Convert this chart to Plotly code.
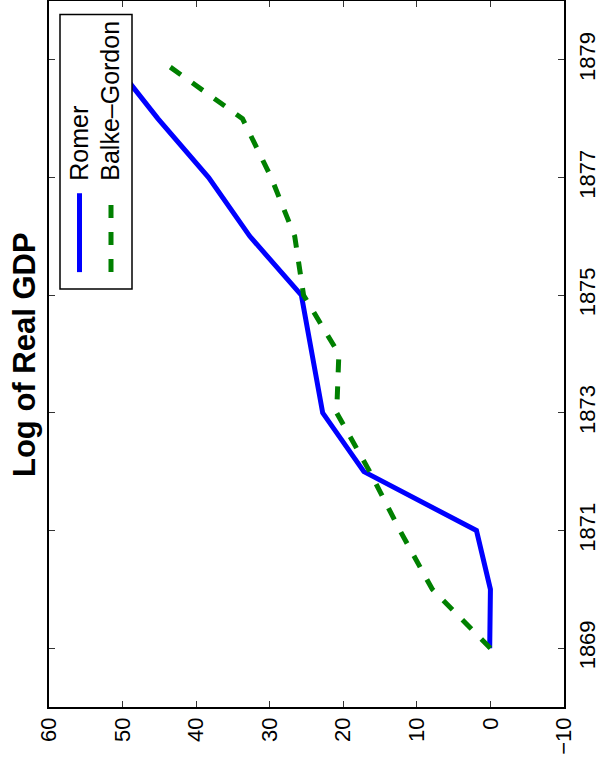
import plotly.graph_objects as go

years = [1869, 1870, 1871, 1872, 1873, 1874, 1875, 1876, 1877, 1878, 1879]
romer = [0.1, 0.0, 1.9, 17.2, 22.8, 24.2, 25.7, 32.7, 38.3, 45.2, 51.5]
balke_gordon = [0.0, 7.9, 12.3, 16.4, 20.9, 20.6, 25.4, 26.6, 29.8, 33.7, 44.9]
year_ticks = [1869, 1871, 1873, 1875, 1877, 1879]
value_ticks = [60, 50, 40, 30, 20, 10, 0, -10]

W, H = 601, 769
L, R, T, B = 49, 564, 0.5, 707.5  # plot area in pixels


def px(xp):
    return (xp - L) / (R - L)


def py(yp):
    return (B - yp) / (B - T)


FONT = "Liberation Sans, Arial, Helvetica, sans-serif"

fig = go.Figure()
fig.add_trace(go.Scatter(x=romer, y=years, mode="lines", name="Romer",
                         line=dict(color="#0000FF", width=5)))
fig.add_trace(go.Scatter(x=balke_gordon, y=years, mode="lines", name="Balke\u2013Gordon",
                         line=dict(color="#008000", width=5, dash="13px,14px")))

axis_common = dict(showgrid=False, zeroline=False, showline=True, linecolor="black",
                   linewidth=1.5, ticks="inside", ticklen=6, tickwidth=1,
                   tickcolor="#333", mirror="ticks",
                   tickfont=dict(family=FONT, size=22, color="black"))

fig.update_layout(
    width=W, height=H,
    margin=dict(l=L, r=W - R, t=T, b=H - B, autoexpand=False),
    paper_bgcolor="white", plot_bgcolor="white",
    showlegend=False,
    xaxis=dict(range=[60, -10], tickvals=value_ticks, tickangle=-90, **axis_common),
    yaxis=dict(range=[1868, 1880], tickvals=year_ticks, side="right", tickangle=-90,
               ticklabelstandoff=3, **axis_common),
)

# Title (rotated)
fig.add_annotation(text="<b>Log of Real GDP</b>", xref="paper", yref="paper",
                   x=px(25), y=py(355), xanchor="center", yanchor="middle",
                   textangle=-90, showarrow=False,
                   font=dict(family=FONT, size=31, color="black"))

# Legend box (rotated legend drawn manually)
fig.add_shape(type="rect", xref="paper", yref="paper",
              x0=px(60), x1=px(132), y0=py(289), y1=py(14),
              fillcolor="white", line=dict(color="black", width=1.5), layer="above")
fig.add_shape(type="line", xref="paper", yref="paper",
              x0=px(79.5), x1=px(79.5), y0=py(272), y1=py(193),
              line=dict(color="#0000FF", width=5), layer="above")
fig.add_shape(type="line", xref="paper", yref="paper",
              x0=px(111), x1=px(111), y0=py(272), y1=py(193),
              line=dict(color="#008000", width=5, dash="13px,14px"), layer="above")
fig.add_annotation(text="Romer", xref="paper", yref="paper",
                   x=px(79), y=py(183), xanchor="center", yanchor="bottom",
                   textangle=-90, showarrow=False,
                   font=dict(family=FONT, size=25, color="black"))
fig.add_annotation(text="Balke\u2013Gordon", xref="paper", yref="paper",
                   x=px(110.5), y=py(183), xanchor="center", yanchor="bottom",
                   textangle=-90, showarrow=False,
                   font=dict(family=FONT, size=25, color="black"))

fig.write_html("out.html",
               config={"displayModeBar": False},
               post_script="document.body.style.margin='0';document.body.style.overflow='hidden';")
